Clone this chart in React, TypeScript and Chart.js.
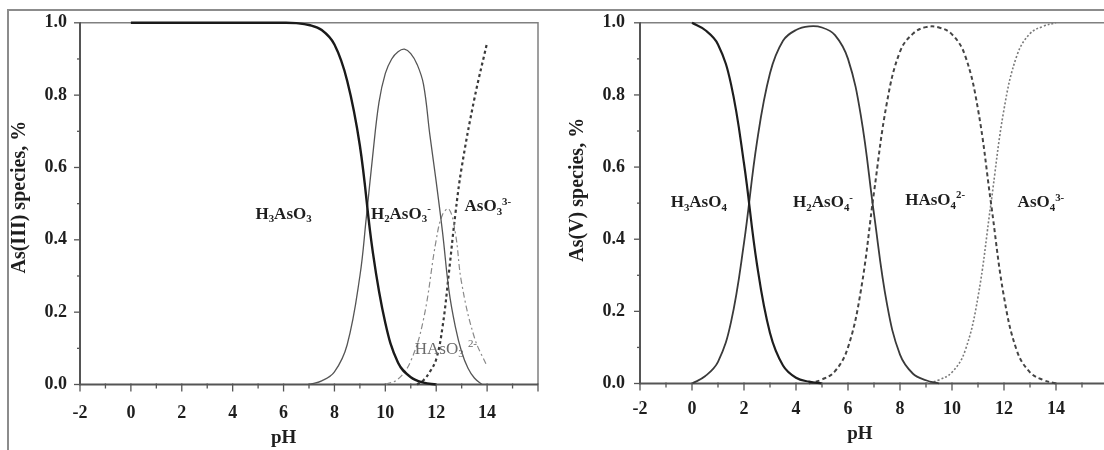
import React, { useEffect, useRef } from 'react';
import { Chart, registerables } from 'chart.js';

Chart.register(...registerables);

// ---------- As(III) panel data (pH, fraction) ----------
const AS3_H3ASO3_PH = [0, 1, 2, 3, 4, 5, 6, 6.5, 7, 7.5, 8, 8.5, 9, 9.5, 10, 10.5, 11, 11.5, 12];
const AS3_H3ASO3 = [1, 1, 1, 1, 1, 1, 1, 0.999, 0.994, 0.98, 0.94, 0.84, 0.66, 0.37, 0.17, 0.06, 0.02, 0.005, 0];

const AS3_H2ASO3_PH = [7, 7.5, 8, 8.5, 9, 9.25, 9.5, 9.75, 10, 10.25, 10.5, 10.75, 11, 11.25, 11.5, 11.75, 12, 12.25, 12.5, 12.75, 13, 13.25, 13.5, 13.8];
const AS3_H2ASO3 = [0, 0.01, 0.035, 0.11, 0.3, 0.46, 0.63, 0.78, 0.86, 0.9, 0.92, 0.927, 0.915, 0.885, 0.83, 0.69, 0.56, 0.42, 0.26, 0.16, 0.09, 0.045, 0.018, 0];

const AS3_HASO3_PH = [10, 10.5, 11, 11.5, 12, 12.25, 12.5, 12.75, 13, 13.5, 14];
const AS3_HASO3 = [0, 0.015, 0.065, 0.18, 0.4, 0.47, 0.485, 0.42, 0.28, 0.13, 0.05];

const AS3_ASO3_PH = [11.25, 11.5, 11.75, 12, 12.25, 12.5, 12.75, 13, 13.5, 14];
const AS3_ASO3 = [0, 0.012, 0.035, 0.07, 0.16, 0.31, 0.47, 0.6, 0.79, 0.945];

// ---------- As(V) panel data (pH, fraction) ----------
const AS5_H3ASO4_PH = [0, 0.5, 1, 1.5, 2, 2.5, 3, 3.5, 4, 4.5, 5];
const AS5_H3ASO4 = [1, 0.98, 0.94, 0.83, 0.61, 0.33, 0.14, 0.05, 0.016, 0.005, 0];

const AS5_H2ASO4_PH = [0, 0.5, 1, 1.5, 2, 2.5, 3, 3.5, 4, 4.5, 5, 5.5, 6, 6.5, 7, 7.5, 8, 8.5, 9, 9.5];
const AS5_H2ASO4 = [0, 0.02, 0.06, 0.17, 0.39, 0.67, 0.86, 0.95, 0.98, 0.99, 0.987, 0.966, 0.9, 0.74, 0.47, 0.22, 0.08, 0.027, 0.009, 0];

const AS5_HASO4_PH = [4.5, 5, 5.5, 6, 6.5, 7, 7.5, 8, 8.5, 9, 9.5, 10, 10.5, 11, 11.5, 12, 12.5, 13, 13.5, 14];
const AS5_HASO4 = [0, 0.011, 0.034, 0.1, 0.26, 0.53, 0.78, 0.92, 0.97, 0.988, 0.987, 0.968, 0.91, 0.76, 0.5, 0.24, 0.09, 0.031, 0.01, 0];

const AS5_ASO4_PH = [9, 9.5, 10, 10.5, 11, 11.5, 12, 12.5, 13, 13.5, 14];
const AS5_ASO4 = [0, 0.01, 0.031, 0.09, 0.24, 0.5, 0.76, 0.91, 0.97, 0.99, 1];

// ---------- axis ----------
const X_MIN = -2;
const X_MAX = 16;
const Y_MIN = 0;
const Y_MAX = 1;
const HIDDEN_X_LABELS = [16];

const FAMILY = "'Liberation Serif', 'DejaVu Serif', 'Times New Roman', serif";

type Part = [string, ('sub' | 'sup')?];
interface SpeciesLabel { parts: Part[]; at: [number, number]; bold: boolean; color: string; size: number; }

const AS3_LABELS: SpeciesLabel[] = [
  { parts: [['H'], ['3', 'sub'], ['AsO'], ['3', 'sub']], at: [6.0, 0.474], bold: true, color: '#1e1e1e', size: 17 },
  { parts: [['H'], ['2', 'sub'], ['AsO'], ['3', 'sub'], ['-', 'sup']], at: [10.61, 0.474], bold: true, color: '#1e1e1e', size: 17 },
  { parts: [['AsO'], ['3', 'sub'], ['3-', 'sup']], at: [14.03, 0.494], bold: true, color: '#1e1e1e', size: 17 },
  { parts: [['HAsO'], ['3', 'sub'], [' '], ['2-', 'sup']], at: [12.38, 0.1], bold: false, color: '#6a6a6a', size: 17 },
];

const AS5_LABELS: SpeciesLabel[] = [
  { parts: [['H'], ['3', 'sub'], ['AsO'], ['4', 'sub']], at: [0.26, 0.504], bold: true, color: '#1e1e1e', size: 17 },
  { parts: [['H'], ['2', 'sub'], ['AsO'], ['4', 'sub'], ['-', 'sup']], at: [5.04, 0.504], bold: true, color: '#1e1e1e', size: 17 },
  { parts: [['HAsO'], ['4', 'sub'], ['2-', 'sup']], at: [9.35, 0.51], bold: true, color: '#1e1e1e', size: 17 },
  { parts: [['AsO'], ['4', 'sub'], ['3-', 'sup']], at: [13.42, 0.504], bold: true, color: '#1e1e1e', size: 17 },
];

function toPoints(ph: number[], v: number[]) {
  return ph.map((x, i) => ({ x, y: v[i] }));
}

function drawRich(ctx: CanvasRenderingContext2D, lab: SpeciesLabel, cx: number, cy: number) {
  const w = lab.bold ? 'bold' : 'normal';
  const segs = lab.parts.map(([t, kind]) => {
    const s = kind ? lab.size * 0.64 : lab.size;
    ctx.font = `${w} ${s}px ${FAMILY}`;
    return { t, kind, s, w: ctx.measureText(t).width };
  });
  const total = segs.reduce((a, b) => a + b.w, 0);
  let xx = cx - total / 2;
  const base = cy + lab.size * 0.33;
  ctx.fillStyle = lab.color;
  ctx.textAlign = 'left';
  ctx.textBaseline = 'alphabetic';
  for (const sg of segs) {
    ctx.font = `${w} ${sg.s}px ${FAMILY}`;
    const dy = sg.kind === 'sub' ? lab.size * 0.2 : sg.kind === 'sup' ? -lab.size * 0.4 : 0;
    ctx.fillText(sg.t, xx, base + dy);
    xx += sg.w;
  }
}

const sciPlugin = {
  id: 'sci',
  beforeDatasetsDraw(chart: any, _args: any, o: any) {
    const { ctx, chartArea: a } = chart;
    ctx.save();
    ctx.strokeStyle = o.frameColor;
    ctx.lineWidth = 1.5;
    ctx.beginPath();
    ctx.moveTo(a.left, a.top);
    ctx.lineTo(a.right, a.top);
    ctx.lineTo(a.right, a.bottom);
    ctx.stroke();
    ctx.strokeStyle = o.axisColor;
    ctx.lineWidth = 2;
    ctx.beginPath();
    ctx.moveTo(a.left, a.top);
    ctx.lineTo(a.left, a.bottom);
    ctx.lineTo(a.right, a.bottom);
    ctx.stroke();
    ctx.restore();
  },
  afterDraw(chart: any, _args: any, o: any) {
    const { ctx, chartArea: a } = chart;
    const xs = chart.scales.x;
    const ys = chart.scales.y;
    ctx.save();
    ctx.strokeStyle = o.axisColor;
    ctx.lineWidth = 1.3;
    for (let v = xs.min; v <= xs.max + 1e-6; v += 1) {
      const px = xs.getPixelForValue(v);
      const major = Math.abs(Math.round(v) % 2) === 0;
      ctx.beginPath();
      ctx.moveTo(px, a.bottom - 1);
      ctx.lineTo(px, a.bottom + (major ? 7 : 4));
      ctx.stroke();
    }
    for (let i = 0; i <= 10; i++) {
      const v = ys.min + (i * (ys.max - ys.min)) / 10;
      const py = ys.getPixelForValue(v);
      const major = i % 2 === 0;
      ctx.beginPath();
      ctx.moveTo(a.left + 1, py);
      ctx.lineTo(a.left - (major ? 6 : 3), py);
      ctx.stroke();
    }
    // titles
    ctx.fillStyle = '#1e1e1e';
    ctx.textAlign = 'center';
    ctx.textBaseline = 'middle';
    ctx.font = `bold ${o.xTitleSize}px ${FAMILY}`;
    ctx.fillText(o.xTitle, xs.getPixelForValue(o.xTitleAt), a.bottom + o.xTitleDy);
    ctx.save();
    ctx.font = `bold ${o.yTitleSize}px ${FAMILY}`;
    ctx.translate(a.left - o.yTitleDx, ys.getPixelForValue(o.yTitleAt));
    ctx.rotate(-Math.PI / 2);
    ctx.fillText(o.yTitle, 0, 0);
    ctx.restore();
    for (const lab of o.labels as SpeciesLabel[]) {
      drawRich(ctx, lab, xs.getPixelForValue(lab.at[0]), ys.getPixelForValue(lab.at[1]));
    }
    ctx.restore();
  },
};

interface Series { ph: number[]; v: number[]; color: string; width: number; dash: number[]; }
interface Panel {
  series: Series[];
  labels: SpeciesLabel[];
  yTitle: string;
  yTitleAt: number;
  yTitleDx: number;
  xTitleAt: number;
  xTitleDy: number;
  padding: { top: number; right: number; left: number; bottom: number };
  yWidth: number;
  xHeight: number;
  xTickPad: number;
  yTickGap: number;
}

const LEFT: Panel = {
  series: [
    { ph: AS3_H3ASO3_PH, v: AS3_H3ASO3, color: '#1a1a1a', width: 2.4, dash: [] },
    { ph: AS3_H2ASO3_PH, v: AS3_H2ASO3, color: '#555555', width: 1.3, dash: [] },
    { ph: AS3_HASO3_PH, v: AS3_HASO3, color: '#8a8a8a', width: 1.2, dash: [6, 3, 2, 3] },
    { ph: AS3_ASO3_PH, v: AS3_ASO3, color: '#3a3a3a', width: 2.2, dash: [3, 3] },
  ],
  labels: AS3_LABELS,
  yTitle: 'As(III) species, %',
  yTitleAt: 0.518,
  yTitleDx: 60,
  xTitleAt: 6,
  xTitleDy: 54,
  padding: { top: 10.7, right: 12, left: 0, bottom: 0 },
  yWidth: 70,
  xHeight: 65.5,
  xTickPad: 18,
  yTickGap: 13,
};

const RIGHT: Panel = {
  series: [
    { ph: AS5_H3ASO4_PH, v: AS5_H3ASO4, color: '#1e1e1e', width: 2.2, dash: [] },
    { ph: AS5_H2ASO4_PH, v: AS5_H2ASO4, color: '#3a3a3a', width: 1.8, dash: [] },
    { ph: AS5_HASO4_PH, v: AS5_HASO4, color: '#444444', width: 2, dash: [4, 3] },
    { ph: AS5_ASO4_PH, v: AS5_ASO4, color: '#7a7a7a', width: 1.6, dash: [2, 2] },
  ],
  labels: AS5_LABELS,
  yTitle: 'As(V) species, %',
  yTitleAt: 0.537,
  yTitleDx: 62,
  xTitleAt: 6.46,
  xTitleDy: 51,
  padding: { top: 7.5, right: 48, left: 0, bottom: 0 },
  yWidth: 84,
  xHeight: 66.5,
  xTickPad: 15,
  yTickGap: 15,
};

function buildConfig(p: Panel): any {
  return {
    type: 'line',
    data: {
      datasets: p.series.map((s) => ({
        data: toPoints(s.ph, s.v),
        borderColor: s.color,
        borderWidth: s.width,
        borderDash: s.dash,
        pointRadius: 0,
        fill: false,
        tension: 0.4,
        clip: 4,
      })),
    },
    options: {
      animation: false,
      responsive: false,
      devicePixelRatio: 1,
      events: [],
      layout: { padding: p.padding, autoPadding: false },
      plugins: {
        legend: { display: false },
        tooltip: { enabled: false },
        sci: {
          labels: p.labels,
          yTitle: p.yTitle,
          yTitleAt: p.yTitleAt,
          yTitleDx: p.yTitleDx,
          xTitle: 'pH',
          xTitleAt: p.xTitleAt,
          xTitleDy: p.xTitleDy,
          xTitleSize: 19,
          yTitleSize: 20,
          axisColor: '#555555',
          frameColor: '#808080',
        },
      },
      scales: {
        x: {
          type: 'linear',
          min: X_MIN,
          max: X_MAX,
          grid: { display: false, drawTicks: false },
          border: { display: false },
          ticks: {
            stepSize: 2,
            autoSkip: false,
            maxRotation: 0,
            padding: p.xTickPad,
            color: '#1e1e1e',
            font: { family: FAMILY, size: 18, weight: 'bold' },
            callback: (v: number) => (HIDDEN_X_LABELS.includes(v) ? '' : String(v)),
          },
          afterFit: (s: any) => { s.height = p.xHeight; },
        },
        y: {
          type: 'linear',
          min: Y_MIN,
          max: Y_MAX,
          grid: { display: true, drawOnChartArea: false, drawTicks: true, tickLength: p.yTickGap, tickColor: 'rgba(0,0,0,0)', color: 'rgba(0,0,0,0)' },
          border: { display: false },
          ticks: {
            stepSize: 0.2,
            padding: 0,
            color: '#1e1e1e',
            font: { family: FAMILY, size: 18, weight: 'bold' },
            callback: (v: number) => Number(v).toFixed(1),
          },
          afterFit: (s: any) => { s.width = p.yWidth; },
        },
      },
    },
    plugins: [sciPlugin],
  };
}

export default function App() {
  const leftRef = useRef<HTMLCanvasElement>(null);
  const rightRef = useRef<HTMLCanvasElement>(null);
  useEffect(() => {
    const c1 = new Chart(leftRef.current as HTMLCanvasElement, buildConfig(LEFT));
    const c2 = new Chart(rightRef.current as HTMLCanvasElement, buildConfig(RIGHT));
    return () => {
      c1.destroy();
      c2.destroy();
    };
  }, []);
  return (
    <div style={{ position: 'fixed', left: 0, top: 0, width: 1104, height: 450, overflow: 'hidden', background: '#fff' }}>
      <div
        style={{
          position: 'absolute', left: 7, top: 9, right: 0, bottom: 0,
          borderTop: '2px solid #8c8c8c', borderLeft: '2px solid #8c8c8c',
        }}
      />
      <canvas ref={leftRef} width={546} height={438} style={{ position: 'absolute', left: 10, top: 12, width: 546, height: 438 }} />
      <canvas ref={rightRef} width={600} height={438} style={{ position: 'absolute', left: 556, top: 12, width: 600, height: 438 }} />
    </div>
  );
}
